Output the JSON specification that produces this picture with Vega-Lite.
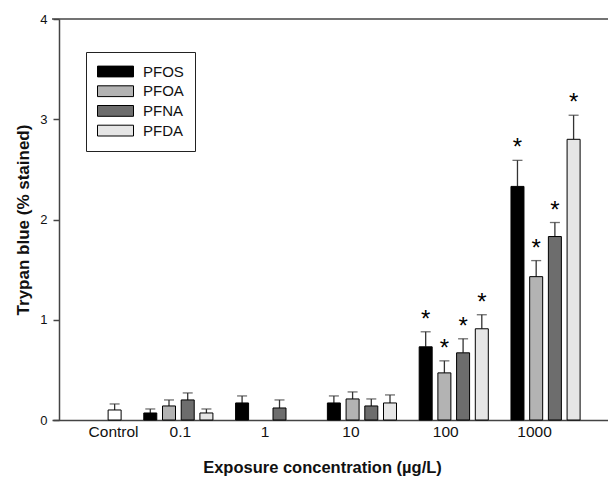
{
  "$schema": "https://vega.github.io/schema/vega-lite/v6.json",
  "width": 556,
  "height": 401,
  "autosize": {"type": "none"},
  "padding": {"left": 52, "top": 19, "right": 0, "bottom": 57},
  "background": "white",
  "config": {"view": {"stroke": null}, "font": "Liberation Sans"},
  "data": {
    "values": [
      {"group": "Control", "series": "Control", "slot": "PFDA", "value": 0.10, "upper": 0.16, "sig": ""},
      {"group": "0.1", "series": "PFOS", "slot": "PFOS", "value": 0.07, "upper": 0.11, "sig": ""},
      {"group": "0.1", "series": "PFOA", "slot": "PFOA", "value": 0.14, "upper": 0.20, "sig": ""},
      {"group": "0.1", "series": "PFNA", "slot": "PFNA", "value": 0.20, "upper": 0.27, "sig": ""},
      {"group": "0.1", "series": "PFDA", "slot": "PFDA", "value": 0.07, "upper": 0.11, "sig": ""},
      {"group": "1", "series": "PFOS", "slot": "PFOS", "value": 0.17, "upper": 0.24, "sig": ""},
      {"group": "1", "series": "PFNA", "slot": "PFNA", "value": 0.12, "upper": 0.20, "sig": ""},
      {"group": "10", "series": "PFOS", "slot": "PFOS", "value": 0.17, "upper": 0.24, "sig": ""},
      {"group": "10", "series": "PFOA", "slot": "PFOA", "value": 0.21, "upper": 0.28, "sig": ""},
      {"group": "10", "series": "PFNA", "slot": "PFNA", "value": 0.14, "upper": 0.21, "sig": ""},
      {"group": "10", "series": "PFDA", "slot": "PFDA", "value": 0.17, "upper": 0.25, "sig": ""},
      {"group": "100", "series": "PFOS", "slot": "PFOS", "value": 0.73, "upper": 0.88, "sig": "*"},
      {"group": "100", "series": "PFOA", "slot": "PFOA", "value": 0.47, "upper": 0.59, "sig": "*"},
      {"group": "100", "series": "PFNA", "slot": "PFNA", "value": 0.67, "upper": 0.81, "sig": "*"},
      {"group": "100", "series": "PFDA", "slot": "PFDA", "value": 0.91, "upper": 1.05, "sig": "*"},
      {"group": "1000", "series": "PFOS", "slot": "PFOS", "value": 2.33, "upper": 2.59, "sig": "*"},
      {"group": "1000", "series": "PFOA", "slot": "PFOA", "value": 1.43, "upper": 1.59, "sig": "*"},
      {"group": "1000", "series": "PFNA", "slot": "PFNA", "value": 1.83, "upper": 1.97, "sig": "*"},
      {"group": "1000", "series": "PFDA", "slot": "PFDA", "value": 2.80, "upper": 3.04, "sig": "*"}
    ]
  },
  "layer": [
    {
      "data": {"values": [{"top": 4}]},
      "mark": {"type": "rule", "color": "#444444", "strokeWidth": 1.5},
      "encoding": {
        "y": {
          "field": "top",
          "type": "quantitative",
          "scale": {"domain": [0, 4], "nice": false, "zero": true},
          "axis": {
            "title": "Trypan blue (% stained)",
            "titleFontSize": 17,
            "titleFontWeight": "bold",
            "titleColor": "#111111",
            "titleX": -31,
            "titleY": 200.5,
            "titleBaseline": "alphabetic",
            "values": [0, 1, 2, 3, 4],
            "format": "d",
            "labelFontSize": 13,
            "labelColor": "#111111",
            "labelPadding": 6,
            "tickSize": 6,
            "tickColor": "#444444",
            "tickWidth": 1.5,
            "domainColor": "#444444",
            "domainWidth": 1.5,
            "grid": false,
            "offset": -7
          }
        }
      }
    },
    {
      "mark": {"type": "rule", "color": "#333333", "strokeWidth": 1.3},
      "encoding": {
        "x": {"field": "group", "type": "nominal"},
        "xOffset": {"field": "slot", "type": "nominal"},
        "y": {"field": "value", "type": "quantitative"},
        "y2": {"field": "upper"}
      }
    },
    {
      "mark": {"type": "tick", "color": "#333333", "thickness": 1.3, "size": 10, "orient": "horizontal"},
      "encoding": {
        "x": {"field": "group", "type": "nominal"},
        "xOffset": {"field": "slot", "type": "nominal"},
        "y": {"field": "upper", "type": "quantitative"}
      }
    },
    {
      "mark": {"type": "bar", "stroke": "#000000", "strokeWidth": 1},
      "encoding": {
        "x": {
          "field": "group",
          "type": "nominal",
          "sort": ["Control", "0.1", "1", "10", "100", "1000"],
          "scale": {"domain": ["Control", "0.1", "1", "10", "100", "1000"], "paddingInner": 0.247, "paddingOuter": 0.152, "align": 0},
          "axis": {
            "title": "Exposure concentration (µg/L)",
            "titleFontSize": 16.5,
            "titleFontWeight": "bold",
            "titleColor": "#111111",
            "titleX": 270,
            "titleY": 52,
            "titleBaseline": "alphabetic",
            "labelAngle": 0,
            "labelAlign": "center",
            "labelFontSize": 15.5,
            "labelColor": "#111111",
            "labelBaseline": "alphabetic",
            "labelPadding": 16,
            "ticks": false,
            "domainColor": "#444444",
            "domainWidth": 1.5,
            "labelOffset": {
              "condition": [
                {"test": "datum.value === 'Control'", "value": 27},
                {"test": "datum.value === '0.1'", "value": 2},
                {"test": "datum.value === '1'", "value": -5},
                {"test": "datum.value === '100'", "value": -8}
              ],
              "value": -11
            }
          }
        },
        "xOffset": {
          "field": "slot",
          "type": "nominal",
          "scale": {"domain": ["PFOS", "PFOA", "PFNA", "PFDA"], "paddingInner": 0.305, "paddingOuter": 0}
        },
        "y": {"field": "value", "type": "quantitative"},
        "color": {
          "field": "series",
          "type": "nominal",
          "scale": {
            "domain": ["PFOS", "PFOA", "PFNA", "PFDA", "Control"],
            "range": ["#000000", "#b3b3b3", "#6d6d6d", "#e6e6e6", "#ffffff"]
          },
          "legend": {
            "orient": "none",
            "legendX": 34,
            "legendY": 33,
            "title": null,
            "values": ["PFOS", "PFOA", "PFNA", "PFDA"],
            "symbolType": "M-1,-0.3H1V0.3H-1Z",
            "symbolSize": 1296,
            "symbolStrokeColor": "#000000",
            "symbolStrokeWidth": 1,
            "symbolOpacity": 1,
            "clipHeight": 17,
            "rowPadding": 2.7,
            "padding": 11,
            "strokeColor": "#222222",
            "fillColor": "white",
            "labelFontSize": 15,
            "labelOffset": 9,
            "labelColor": "#111111"
          }
        }
      }
    },
    {
      "transform": [{"filter": "datum.sig === '*'"}],
      "mark": {"type": "text", "fontSize": 24, "baseline": "alphabetic", "align": "center", "dy": -5, "color": "#000000"},
      "encoding": {
        "x": {"field": "group", "type": "nominal"},
        "xOffset": {"field": "slot", "type": "nominal"},
        "y": {"field": "upper", "type": "quantitative"},
        "text": {"field": "sig"}
      }
    }
  ]
}
